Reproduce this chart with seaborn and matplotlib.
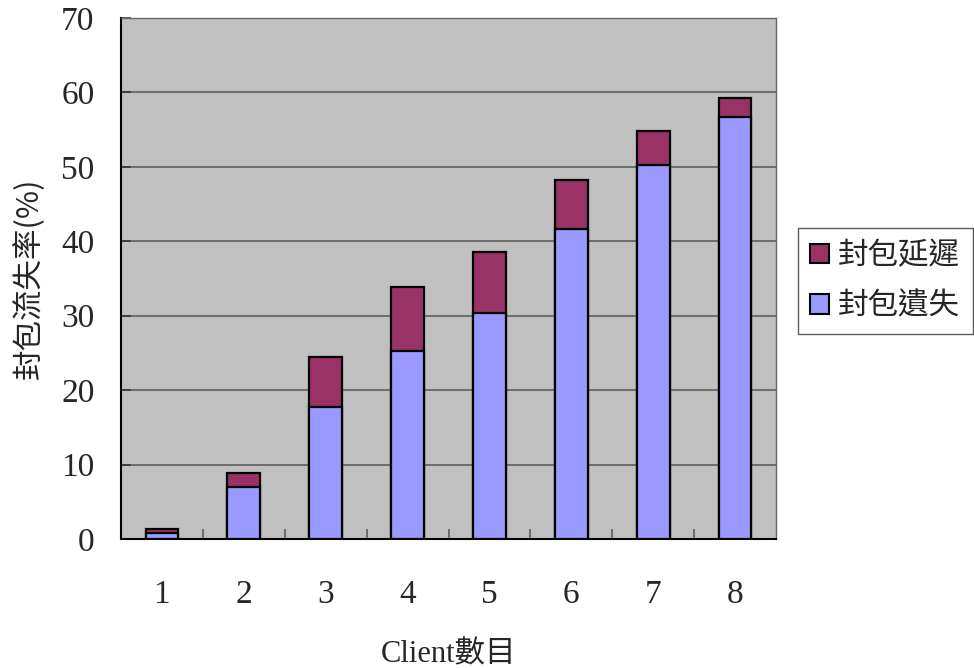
import matplotlib
matplotlib.use("Agg")
import matplotlib.pyplot as plt
from matplotlib.patches import Patch
from matplotlib.ticker import FixedLocator
import numpy as np
import pandas as pd
import seaborn as sns

# Packet statistics per number of clients (%)
clients = ["1", "2", "3", "4", "5", "6", "7", "8"]
loss = [0.8, 7.0, 17.7, 25.3, 30.4, 41.7, 50.2, 56.7]     # 封包遺失
delay = [0.6, 1.9, 6.8, 8.6, 8.1, 6.5, 4.6, 2.5]          # 封包延遲
y_ticks = [0, 10, 20, 30, 40, 50, 60, 70]

series_names = ["封包延遲", "封包遺失"]
delay_color = "#993366"
loss_color = "#9999FF"

sns.set_theme(style="white")
plt.rcParams["font.family"] = ["Liberation Serif", "Noto Sans CJK TC"]
cjk = ["Noto Sans CJK TC", "DejaVu Sans"]

df = pd.DataFrame({
    "client": clients,
    "loss": loss,
    "total": np.array(loss) + np.array(delay),
})

fig = plt.figure(figsize=(9.74, 6.68), dpi=100)
ax = fig.add_axes([121 / 974, 1 - 539 / 668, 655 / 974, 521 / 668])
ax.set_facecolor("#C0C0C0")

# stacked bars: full height in the delay colour, loss part drawn on top
sns.barplot(data=df, x="client", y="total", color=delay_color, width=0.4,
            edgecolor="black", linewidth=1.6, saturation=1, ax=ax, zorder=3)
sns.barplot(data=df, x="client", y="loss", color=loss_color, width=0.4,
            edgecolor="black", linewidth=1.6, saturation=1, ax=ax, zorder=4)

ax.set_xlim(-0.5, len(clients) - 0.5)
ax.set_ylim(0, 70)
ax.set_yticks(y_ticks)
ax.yaxis.grid(True, color="#555555", linewidth=1.1, zorder=1)
ax.set_axisbelow(True)

ax.tick_params(axis="x", which="major", length=0, pad=29, labelsize=24)
ax.xaxis.set_minor_locator(FixedLocator(np.arange(0.5, len(clients) - 0.5, 1)))
ax.tick_params(axis="x", which="minor", direction="in", length=7, width=1.1,
               color="#555555", bottom=True)
ax.tick_params(axis="y", which="major", direction="in", length=7, width=1.1,
               color="#333333", pad=19, labelsize=24, left=True)

for side in ["left", "bottom"]:
    ax.spines[side].set_color("black")
    ax.spines[side].set_linewidth(1.5)
for side in ["top", "right"]:
    ax.spines[side].set_color("#666666")
    ax.spines[side].set_linewidth(1.0)

ax.set_xlabel("Client數目", fontsize=22, labelpad=22)
ax.set_ylabel("封包流失率(%)", fontsize=22, family=cjk, labelpad=12)

handles = [Patch(facecolor=delay_color, edgecolor="black", linewidth=1.5),
           Patch(facecolor=loss_color, edgecolor="black", linewidth=1.5)]
leg = fig.legend(handles, series_names, loc="upper left",
                 bbox_to_anchor=(798 / 974, 1 - 228 / 668),
                 prop={"family": cjk, "size": 22}, frameon=True, fancybox=False,
                 edgecolor="#333333", handlelength=0.62, handleheight=0.62,
                 handletextpad=0.3, borderpad=0.4, borderaxespad=0,
                 labelspacing=0.64)
leg.get_frame().set_linewidth(1.0)

fig.savefig("out.png", dpi=100)
